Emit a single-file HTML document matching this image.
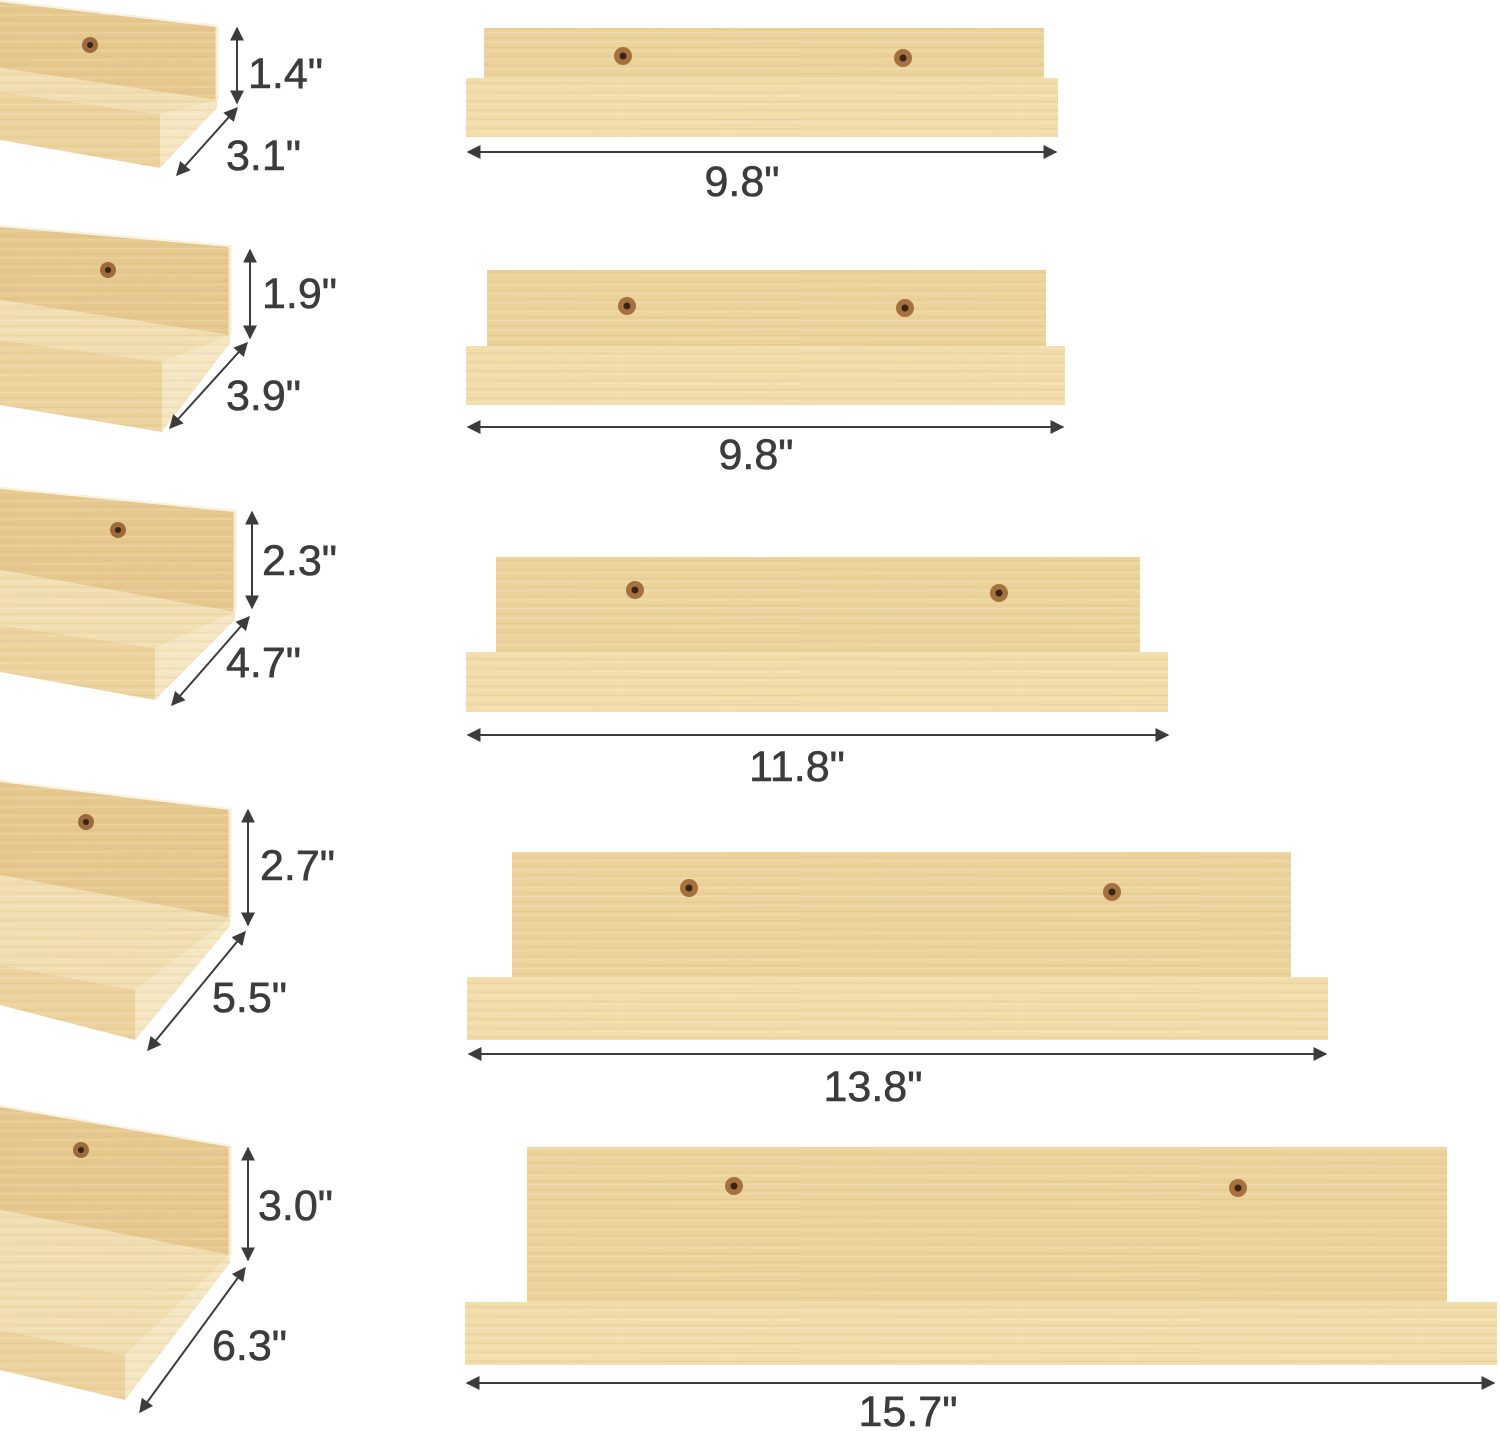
<!DOCTYPE html>
<html><head><meta charset="utf-8"><style>
html,body{margin:0;padding:0;background:#fff;}
svg{display:block}
text{font-family:"Liberation Sans",sans-serif;fill:#3c3c3c;font-size:43px;stroke:#3c3c3c;stroke-width:0.6px;}
</style></head><body>
<svg width="1500" height="1431" viewBox="0 0 1500 1431">
<defs>
<pattern id="grain" width="400" height="9" patternUnits="userSpaceOnUse">
<rect width="400" height="9" fill="none"/>
<line x1="0" y1="2" x2="400" y2="2.5" stroke="#c9a566" stroke-opacity="0.22" stroke-width="1"/>
<line x1="0" y1="6" x2="400" y2="5.5" stroke="#ffffff" stroke-opacity="0.18" stroke-width="1.2"/>
</pattern>
<marker id="ah" viewBox="0 0 10 10" refX="9" refY="5" markerWidth="7" markerHeight="7" orient="auto-start-reverse">
<path d="M0,0 L10,5 L0,10 z" fill="#3c3c3c"/>
</marker>
</defs>

<g id="left"></g>
<g id="right"></g>
</svg>
<script>
const ns="http://www.w3.org/2000/svg";
const heightLabels=["1.4\"","1.9\"","2.3\"","2.7\"","3.0\""];
const depthLabels=["3.1\"","3.9\"","4.7\"","5.5\"","6.3\""];
const widthLabels=["9.8\"","9.8\"","11.8\"","13.8\"","15.7\""];
function mk(tag,attrs,parent){const e=document.createElementNS(ns,tag);for(const k in attrs)e.setAttribute(k,attrs[k]);parent.appendChild(e);return e;}
const L=document.getElementById('left');
const sideGeom=[
 {T0:0,R:217,T1:25,B1:100,B0:68,L:160,LT0:92,LT1:114,LB1:168,LB0:140,vx:237,vy1:28,vy2:103,d:[237,108,177,175],hx:248,hy:88,dx:226,dy:170,hole:[90,45]},
 {T0:225,R:230,T1:245,B1:335,B0:300,L:162,LT0:340,LT1:362,LB1:432,LB0:405,vx:250,vy1:250,vy2:338,d:[247,343,170,428],hx:262,hy:308,dx:226,dy:410,hole:[108,270]},
 {T0:487,R:235,T1:510,B1:612,B0:570,L:155,LT0:625,LT1:648,LB1:700,LB0:672,vx:252,vy1:512,vy2:608,d:[249,617,172,705],hx:262,hy:575,dx:226,dy:677,hole:[118,530]},
 {T0:780,R:230,T1:808,B1:918,B0:875,L:135,LT0:965,LT1:990,LB1:1040,LB0:1005,vx:248,vy1:810,vy2:925,d:[245,932,148,1050],hx:260,hy:880,dx:212,dy:1012,hole:[86,822]},
 {T0:1105,R:230,T1:1145,B1:1255,B0:1210,L:125,LT0:1330,LT1:1355,LB1:1400,LB0:1370,vx:248,vy1:1148,vy2:1260,d:[245,1268,140,1412],hx:258,hy:1220,dx:212,dy:1360,hole:[81,1150]}
];
sideGeom.forEach((g,i)=>{
 const grp=mk('g',{},L);
 
 
 const P=a=>a.map(p=>p.join(',')).join(' ');
 const back=[[0,g.T0],[g.R,g.T1],[g.R,g.B1],[0,g.B0]];
 const floor=[[0,g.B0],[g.R,g.B1],[g.L,g.LT1],[0,g.LT0]];
 const lip=[[0,g.LT0],[g.L,g.LT1],[g.L,g.LB1],[0,g.LB0]];
 const side=[[g.L,g.LT1],[g.R,g.B1],[g.R,g.B1+8],[g.L,g.LB1]];
 [[back,'#e6c88e'],[floor,'#f1deb0'],[lip,'#ecd29d'],[side,'#f5e6c2']].forEach(([pts,c])=>{
  mk('polygon',{points:P(pts),fill:c},grp);
  mk('polygon',{points:P(pts),fill:'url(#grain)'},grp);
 });
 mk('line',{x1:0,y1:g.T0+1,x2:g.R,y2:g.T1+1,stroke:'#fbf3e2','stroke-width':2},grp);
 mk('line',{x1:g.R,y1:g.T1,x2:g.R,y2:g.B1,stroke:'#f7ecd4','stroke-width':3},grp);
 mk('circle',{cx:g.hole[0],cy:g.hole[1],r:8,fill:'#9c6a3c'},grp);
 mk('circle',{cx:g.hole[0],cy:g.hole[1],r:3,fill:'#3a2414'},grp);
 const v=mk('line',{x1:g.vx,y1:g.vy1,x2:g.vx,y2:g.vy2,stroke:'#3c3c3c','stroke-width':2,'marker-start':'url(#ah)','marker-end':'url(#ah)'},grp);
 
 
 const dg=mk('line',{x1:g.d[0],y1:g.d[1],x2:g.d[2],y2:g.d[3],stroke:'#3c3c3c','stroke-width':2,'marker-start':'url(#ah)','marker-end':'url(#ah)'},grp);
 
 
 const t1=mk('text',{x:g.hx,y:g.hy},grp);t1.textContent=heightLabels[i];
 
 
 const t2=mk('text',{x:g.dx,y:g.dy},grp);t2.textContent=depthLabels[i];
 
 
});
const Rg=document.getElementById('right');
const frontGeom=[
 {bx1:484,bx2:1044,by1:28,by2:78,x1:466,x2:1058,y2:137,h:[[623,56],[903,58]],ay:152,ax2:1058,lx:742,ly:196},
 {bx1:487,bx2:1046,by1:270,by2:346,x1:466,x2:1065,y2:405,h:[[627,306],[905,308]],ay:427,ax2:1065,lx:756,ly:469},
 {bx1:496,bx2:1140,by1:557,by2:652,x1:466,x2:1168,y2:712,h:[[635,590],[999,593]],ay:735,ax2:1170,lx:797,ly:781},
 {bx1:512,bx2:1291,by1:852,by2:977,x1:467,x2:1328,y2:1040,h:[[689,888],[1112,892]],ay:1054,ax2:1328,lx:873,ly:1101},
 {bx1:527,bx2:1447,by1:1147,by2:1302,x1:465,x2:1497,y2:1365,h:[[734,1186],[1238,1188]],ay:1383,ax2:1496,lx:908,ly:1426}
];
frontGeom.forEach((g,i)=>{
 const grp=mk('g',{},Rg);
 
 
 mk('rect',{x:g.bx1,y:g.by1,width:g.bx2-g.bx1,height:g.by2-g.by1,fill:'#ecd39c'},grp);
 mk('rect',{x:g.bx1,y:g.by1,width:g.bx2-g.bx1,height:g.by2-g.by1,fill:'url(#grain)'},grp);
 mk('rect',{x:g.x1,y:g.by2,width:g.x2-g.x1,height:g.y2-g.by2,fill:'#f2dcaa'},grp);
 mk('rect',{x:g.x1,y:g.by2,width:g.x2-g.x1,height:g.y2-g.by2,fill:'url(#grain)'},grp);
 g.h.forEach(h=>{
  mk('circle',{cx:h[0],cy:h[1],r:9,fill:'#a5713f'},grp);
  mk('circle',{cx:h[0],cy:h[1],r:3.5,fill:'#3a2414'},grp);
 });
 const a=mk('line',{x1:g.x1+2,y1:g.ay,x2:g.ax2-2,y2:g.ay,stroke:'#3c3c3c','stroke-width':2,'marker-start':'url(#ah)','marker-end':'url(#ah)'},grp);
 
 
 const t=mk('text',{x:g.lx,y:g.ly,'text-anchor':'middle'},grp);t.textContent=widthLabels[i];
 
 
});
</script>
</body></html>
